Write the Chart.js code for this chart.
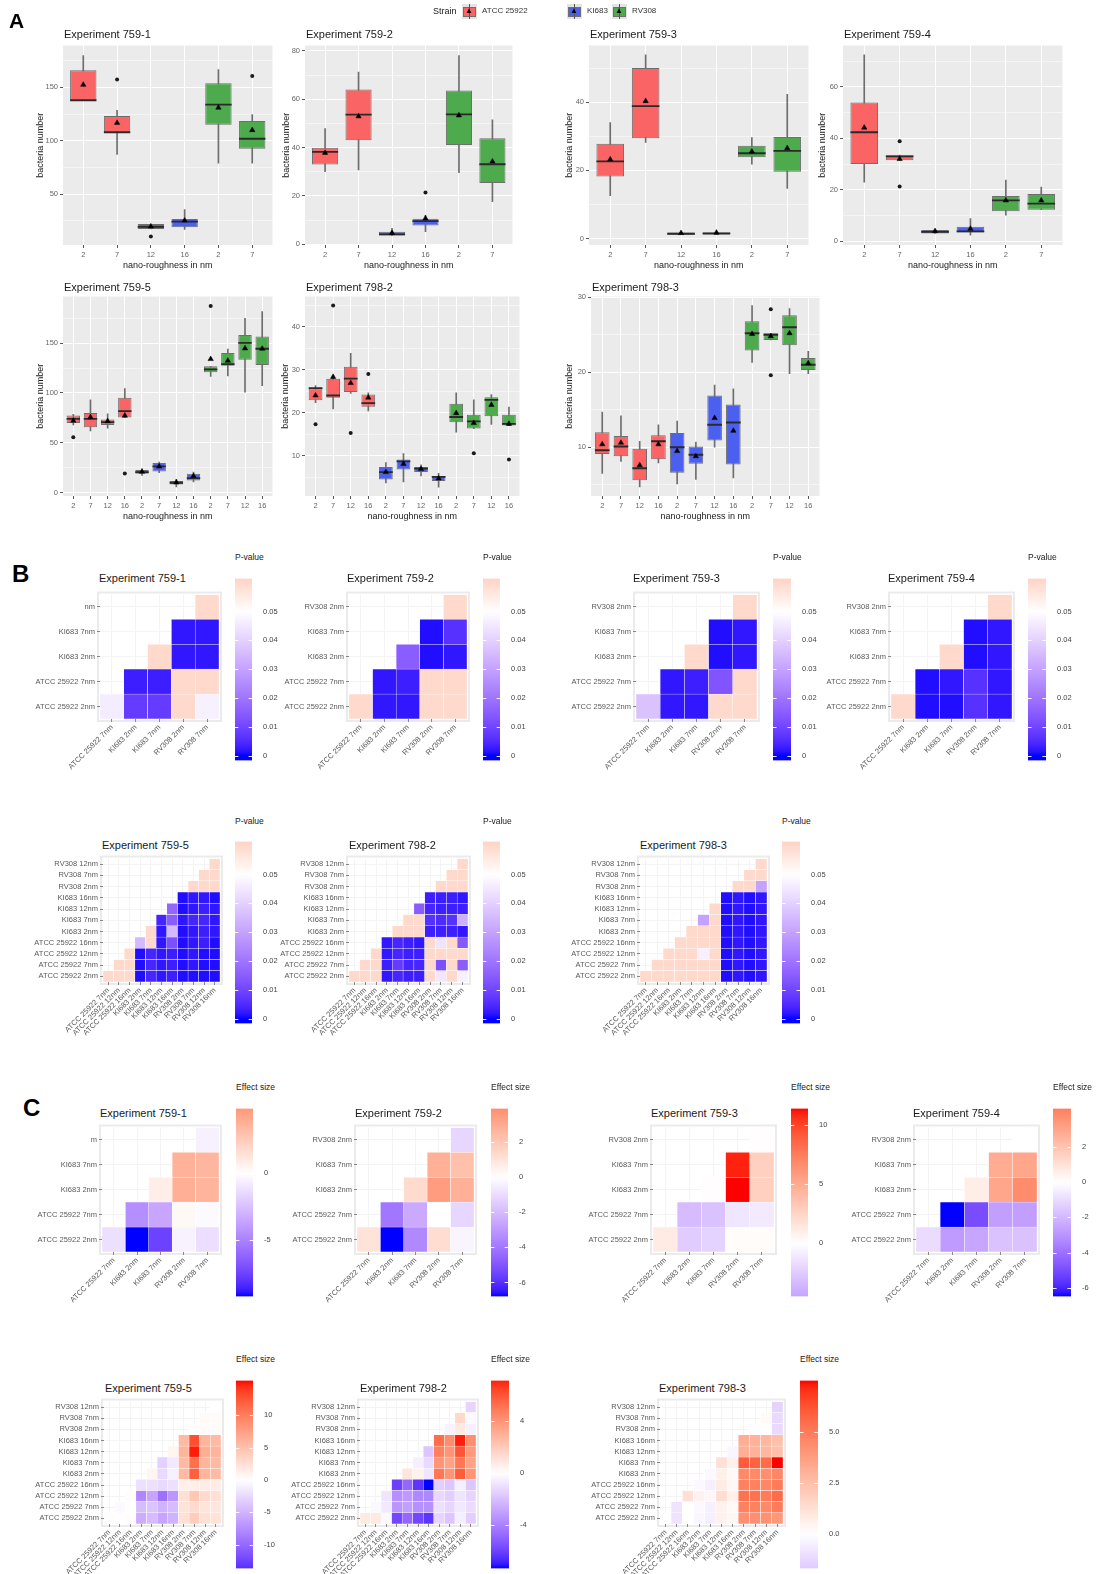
<!DOCTYPE html>
<html>
<head>
<meta charset="utf-8">
<script src="https://cdn.jsdelivr.net/npm/chart.js@4.4.1/dist/chart.umd.min.js"></script>
<style>
  body { margin: 0; background: #fff; }
  #page { position: relative; width: 1104px; height: 1574px; overflow: hidden; font-family: "Liberation Sans", Arial, Helvetica, sans-serif; }
  .abs { position: absolute; line-height: 1; transform: translateY(-50%); white-space: nowrap; color: #1a1a1a; }
  canvas { position: absolute; }
  .key { position: absolute; width: 15px; height: 15px; background: #e3e3e3; }
  .key .fill { position: absolute; left: 1px; top: 3px; width: 11px; height: 8px; border: 1px solid #6e6e6e; }
  .key .wl { position: absolute; left: 7px; top: 0; width: 1px; height: 15px; background: #555; }
  .key .tri { position: absolute; left: 3px; top: 3px; font-size: 8px; line-height: 8px; color: #000; }
</style>
</head>
<body>
<div id="page"></div>
<script>
// ---------- Panel A : box statistics ----------
const strainNames = ['ATCC 25922', 'KI683', 'RV308'];
const strainColors = ['#FA6464', '#4B60F0', '#4DAB4D'];

const cats6 = ['2', '7', '12', '16', '2', '7'];
const strains6 = [0, 0, 1, 1, 2, 2];
const cats12 = ['2', '7', '12', '16', '2', '7', '12', '16', '2', '7', '12', '16'];
const strains12 = [0, 0, 0, 0, 1, 1, 1, 1, 2, 2, 2, 2];

// Experiment 759-1
const e7591Low = [138, 87.3, 17.4, 16.8, 78.9, 78.9];
const e7591Q1 = [138, 108, 17.4, 19, 115, 92.5];
const e7591Med = [138, 108, 19.3, 24.2, 133.9, 101.9];
const e7591Q3 = [166, 123.3, 22, 26.7, 154, 118.6];
const e7591High = [179.8, 128.6, 22, 35.4, 166.8, 124.5];
const e7591Mean = [152.5, 116.8, 19.6, 25.2, 131, 110];
const e7591Out = [[1, 157.5], [2, 10.2], [5, 160.6]];
const e7591Y = [2.3, 189.3];
const e7591Ticks = [50, 100, 150];

// Experiment 759-2
const e7592Low = [30, 30.7, 3.6, 5.2, 29.6, 17.6];
const e7592Q1 = [33, 43, 3.6, 7.8, 41.1, 25.3];
const e7592Med = [38.2, 53.6, 4.1, 9.6, 53.7, 33.1];
const e7592Q3 = [39.9, 64, 5.2, 10.6, 63.6, 43.8];
const e7592High = [47.8, 71.2, 6.6, 12, 78, 51.5];
const e7592Mean = [37.8, 52.9, 4.7, 10.7, 53.3, 34.2];
const e7592Out = [[3, 21.4]];
const e7592Y = [-0.3, 82.2];
const e7592Ticks = [0, 20, 40, 60, 80];

// Experiment 759-3
const e7593Low = [12.6, 28.2, 1.1, 1.1, 21.8, 14.7];
const e7593Q1 = [18.2, 29.4, 1.1, 1.1, 23.8, 19.6];
const e7593Med = [22.6, 38.8, 1.4, 1.5, 25, 25.7];
const e7593Q3 = [27.8, 50, 1.8, 1.8, 27.2, 29.8];
const e7593High = [34, 53.9, 1.8, 1.8, 29.6, 42.3];
const e7593Mean = [23.2, 40.3, 1.6, 1.7, 25.5, 26.5];
const e7593Out = [];
const e7593Y = [-1.9, 56.6];
const e7593Ticks = [0, 20, 40];

// Experiment 759-4
const e7594Low = [23, 31.5, 3.1, 2.4, 10.2, 12.3];
const e7594Q1 = [30.1, 31.5, 3.1, 3.5, 11.7, 12.3];
const e7594Med = [42.4, 33, 3.7, 3.9, 15.9, 14.7];
const e7594Q3 = [54, 33.5, 4.4, 5.7, 17.6, 18.4];
const e7594High = [72.5, 33.5, 4.4, 8.9, 23.8, 21.1];
const e7594Mean = [44.2, 32, 4, 4.9, 15.9, 15.9];
const e7594Out = [[1, 38.9], [1, 21.3]];
const e7594Y = [-1.4, 76.1];
const e7594Ticks = [0, 20, 40, 60];

// Experiment 759-5
const e7595Low = [68, 62, 64.7, 75.3, 17.3, 20, 5.7, 10.7, 116.7, 117, 100.7, 107.3];
const e7595Q1 = [70, 65.7, 68, 75.3, 19, 21.3, 8.3, 12.3, 120.7, 127.3, 133.3, 128];
const e7595Med = [74, 74, 70.7, 81.7, 20.7, 26.3, 10, 14.7, 123.7, 129, 150.3, 144.3];
const e7595Q3 = [77.3, 80, 73.3, 95.3, 22.7, 29.7, 11.7, 19, 126.7, 140, 158, 156.7];
const e7595High = [78.7, 93, 79, 104.3, 24, 30.7, 13.3, 20.7, 126.7, 144, 174.7, 181.7];
const e7595Mean = [72.3, 75.7, 71.7, 77.3, 21, 26.3, 10.3, 16.7, 134, 132.3, 144.7, 144.3];
const e7595Out = [[0, 55.7], [3, 19.3], [8, 187.3]];
const e7595Y = [-3.3, 196.7];
const e7595Ticks = [0, 50, 100, 150];

// Experiment 798-2
const e7982Low = [22.3, 20.9, 24.5, 20.4, 3.7, 3.9, 5.3, 2.7, 15.5, 16.3, 17.3, 17];
const e7982Q1 = [22.9, 23.5, 24.8, 21.4, 4.5, 6.8, 6.2, 4.1, 17.8, 16.3, 19.2, 17];
const e7982Med = [25.7, 24, 27.9, 22.2, 6.2, 8.7, 7, 5.1, 19, 18, 23, 17.4];
const e7982Q3 = [25.7, 27.9, 30.7, 24.2, 7.4, 9.1, 7.4, 5.3, 22.1, 19.5, 23.6, 19.5];
const e7982High = [26.3, 28.5, 33.8, 24.6, 8.4, 10.5, 7.9, 5.9, 24.6, 23, 24.2, 21.3];
const e7982Mean = [24, 28.3, 26.9, 23.5, 6.2, 8.1, 6.9, 4.7, 19.9, 17.6, 21.8, 17.4];
const e7982Out = [[0, 17.3], [1, 44.9], [2, 15.3], [3, 29], [9, 10.6], [11, 9.1]];
const e7982Y = [0.64, 47.0];
const e7982Ticks = [10, 20, 30, 40];

// Experiment 798-3
const e7983Low = [6.5, 8.1, 4.7, 7.9, 5.1, 5.7, 10, 5.9, 21.3, 24.3, 19.8, 19.8];
const e7983Q1 = [9.1, 8.8, 5.6, 8.4, 6.6, 7.8, 10.9, 7.7, 22.9, 24.3, 23.6, 20.3];
const e7983Med = [9.6, 10.1, 7.2, 10.8, 10, 9, 13, 13.3, 25.2, 25, 26, 21];
const e7983Q3 = [12, 11.5, 9.8, 11.6, 11.9, 10.1, 16.9, 15.7, 26.8, 25.2, 27.6, 21.9];
const e7983High = [14.7, 14.2, 10.8, 13, 13.5, 10.7, 18.3, 17.8, 28.9, 25.2, 28.5, 22.8];
const e7983Mean = [10.4, 10.6, 7.6, 10.4, 9.5, 8.8, 13.9, 12.2, 25.1, 24.8, 25.2, 21.2];
const e7983Out = [[9, 28.4], [9, 19.6]];
const e7983Y = [3.5, 30.1];
const e7983Ticks = [10, 20, 30];

// ---------- Panels B and C : pairwise heatmaps ----------
const rows5B = ['ATCC 25922 2nm', 'ATCC 25922 7nm', 'KI683 2nm', 'KI683 7nm', 'nm'];
const rows5C = ['ATCC 25922 2nm', 'ATCC 25922 7nm', 'KI683 2nm', 'KI683 7nm', 'm'];
const rows5 = ['ATCC 25922 2nm', 'ATCC 25922 7nm', 'KI683 2nm', 'KI683 7nm', 'RV308 2nm'];
const cols5 = ['ATCC 25922 7nm', 'KI683 2nm', 'KI683 7nm', 'RV308 2nm', 'RV308 7nm'];
const rows11 = ['ATCC 25922 2nm', 'ATCC 25922 7nm', 'ATCC 25922 12nm', 'ATCC 25922 16nm', 'KI683 2nm', 'KI683 7nm',
  'KI683 12nm', 'KI683 16nm', 'RV308 2nm', 'RV308 7nm', 'RV308 12nm'];
const cols11 = ['ATCC 25922 7nm', 'ATCC 25922 12nm', 'ATCC 25922 16nm', 'KI683 2nm', 'KI683 7nm', 'KI683 12nm',
  'KI683 16nm', 'RV308 2nm', 'RV308 7nm', 'RV308 12nm', 'RV308 16nm'];

// p-values, row i (bottom -> top) lists columns i..n-1
const p7591 = [[0.046, 0.008, 0.008, 0.06, 0.047], [0.003, 0.003, 0.06, 0.06], [0.06, 0.002, 0.002], [0.002, 0.002], [0.06]];
const p7592 = [[0.06, 0.002, 0.002, 0.06, 0.06], [0.002, 0.003, 0.06, 0.06], [0.015, 0.001, 0.002], [0.001, 0.006], [0.06]];
const p7593 = [[0.037, 0.002, 0.002, 0.06, 0.06], [0.002, 0.003, 0.013, 0.06], [0.06, 0.001, 0.002], [0.001, 0.002], [0.06]];
const p7594 = [[0.06, 0.001, 0.001, 0.006, 0.002], [0.001, 0.002, 0.006, 0.002], [0.06, 0.001, 0.002], [0.001, 0.002], [0.06]];
const p7595 = [
  [0.06, 0.06, 0.06, 0.001, 0.004, 0.002, 0.003, 0.001, 0.001, 0.001, 0.001],
  [0.06, 0.06, 0.001, 0.004, 0.002, 0.003, 0.001, 0.002, 0.001, 0.001],
  [0.06, 0.001, 0.004, 0.002, 0.003, 0.001, 0.002, 0.001, 0.001],
  [0.035, 0.06, 0.002, 0.012, 0.001, 0.002, 0.003, 0.001],
  [0.06, 0.002, 0.035, 0.001, 0.002, 0.003, 0.002],
  [0.004, 0.015, 0.002, 0.004, 0.004, 0.002],
  [0.017, 0.001, 0.002, 0.003, 0.002],
  [0.001, 0.002, 0.002, 0.001],
  [0.06, 0.06, 0.06], [0.06, 0.06], [0.06]];
const p7982 = [
  [0.06, 0.06, 0.06, 0.002, 0.004, 0.003, 0.003, 0.06, 0.045, 0.06, 0.047],
  [0.06, 0.06, 0.003, 0.008, 0.004, 0.004, 0.06, 0.012, 0.06, 0.015],
  [0.06, 0.002, 0.004, 0.003, 0.003, 0.06, 0.06, 0.06, 0.06],
  [0.002, 0.004, 0.003, 0.002, 0.06, 0.044, 0.06, 0.014],
  [0.06, 0.06, 0.06, 0.003, 0.003, 0.003, 0.002],
  [0.06, 0.06, 0.006, 0.005, 0.006, 0.033],
  [0.015, 0.004, 0.003, 0.003, 0.003],
  [0.003, 0.003, 0.003, 0.002],
  [0.06, 0.06, 0.06], [0.06, 0.06], [0.06]];
const p7983 = [
  [0.06, 0.06, 0.06, 0.06, 0.06, 0.06, 0.06, 0.001, 0.002, 0.001, 0.002],
  [0.06, 0.06, 0.06, 0.06, 0.06, 0.06, 0.001, 0.002, 0.001, 0.002],
  [0.06, 0.06, 0.06, 0.047, 0.06, 0.001, 0.002, 0.001, 0.002],
  [0.06, 0.06, 0.06, 0.06, 0.001, 0.002, 0.001, 0.002],
  [0.06, 0.06, 0.06, 0.001, 0.002, 0.001, 0.002],
  [0.03, 0.06, 0.001, 0.002, 0.001, 0.002],
  [0.06, 0.001, 0.002, 0.001, 0.002],
  [0.001, 0.002, 0.001, 0.002],
  [0.06, 0.06, 0.03], [0.06, 0.06], [0.06]];

// effect sizes, same layout
const es7591 = [[-1.2, -9.2, -7.5, -0.5, -1.3], [-4.5, -3.5, 0.3, -0.2], [0.8, 3.8, 3.6], [3.7, 3.5], [-0.6]];
const es7592 = [[1.0, -6.8, -3.5, 1.2, -0.3], [-4.0, -2.5, 0.0, -1.2], [1.3, 3.5, 2.8], [2.8, 2.2], [-1.2]];
const es7593 = [[1.2, -2.5, -2.2, 0.2, 0.2], [-3.3, -3.0, -1.2, -1.0], [0.1, 11.4, 2.8], [11.0, 2.8], [0.1]];
const es7594 = [[-1.0, -2.8, -2.5, -1.7, -1.7], [-6.5, -5.0, -2.7, -2.7], [0.6, 3.0, 3.8], [2.8, 3.0], [0.0]];
const es7595 = [
  [0.2, 0.0, 0.2, -5.5, -4.5, -6.0, -5.0, 2.5, 4.0, 2.5, 2.3],
  [-0.3, 0.0, -4.5, -3.8, -5.0, -4.5, 2.3, 3.0, 2.2, 2.0],
  [0.2, -8.0, -6.0, -9.5, -7.0, 2.5, 4.5, 3.0, 2.5],
  [-2.0, -2.0, -2.5, -2.0, 1.3, 1.3, 1.5, 1.5],
  [0.8, -2.5, -1.0, 5.5, 12.0, 6.0, 5.5],
  [-3.0, -1.5, 5.5, 11.0, 6.0, 5.5],
  [0.8, 6.0, 15.0, 6.5, 6.0],
  [5.5, 13.0, 6.0, 5.5],
  [0.1, 0.3, 0.3], [0.4, 0.3], [0.0]];
const es7982 = [
  [0.8, 0.8, -0.2, -5.8, -4.8, -5.8, -6.3, -1.3, -1.8, -0.5, -1.5],
  [-0.2, -0.7, -3.3, -3.0, -3.5, -3.5, -1.0, -1.3, -0.7, -1.1],
  [-0.8, -3.5, -3.2, -3.8, -3.8, -1.2, -1.5, -0.8, -1.3],
  [-6.0, -4.8, -6.3, -7.3, -1.5, -1.8, -0.5, -1.8],
  [1.0, 0.5, -0.8, 5.0, 4.0, 5.8, 4.0],
  [-0.5, -1.2, 4.0, 3.5, 5.0, 3.5],
  [-1.8, 4.7, 4.0, 6.0, 3.8],
  [5.3, 4.3, 7.1, 4.2],
  [-0.4, 0.8, -0.5], [1.5, -0.2], [-1.3]];
const es7983 = [
  [0.0, -0.9, 0.0, -0.3, -0.5, 0.5, 0.3, 4.3, 4.3, 4.2, 4.0],
  [-0.9, 0.0, -0.2, -0.5, 0.5, 0.2, 4.8, 4.8, 4.5, 5.0],
  [1.2, 0.5, 0.3, 1.3, 0.6, 5.3, 5.3, 5.0, 5.5],
  [-0.2, -0.5, 0.8, 0.3, 4.8, 4.8, 4.6, 5.0],
  [-0.2, 0.6, 0.2, 4.5, 4.5, 4.3, 4.6],
  [1.2, 0.5, 6.0, 5.8, 5.5, 7.5],
  [-0.3, 3.2, 3.0, 2.8, 2.5],
  [3.2, 3.0, 2.8, 2.5],
  [-0.1, 0.0, -1.2], [0.2, -1.2], [-1.4]];

// colour bar limits and ticks
const pRange = [-0.0017, 0.0615];
const pTicks = [0, 0.01, 0.02, 0.03, 0.04, 0.05];
const pTickLabels = ['0', '0.01', '0.02', '0.03', '0.04', '0.05'];
const es7591Range = [-9.2, 4.85], es7591Ticks = [-5, 0], es7591Labels = ['-5', '0'];
const es7592Range = [-6.8, 3.9], es7592Ticks = [-6, -4, -2, 0, 2], es7592Labels = ['-6', '-4', '-2', '0', '2'];
const es7593Range = [-4.5, 11.4], es7593Ticks = [0, 5, 10], es7593Labels = ['0', '5', '10'];
const es7594Range = [-6.5, 4.2], es7594Ticks = [-6, -4, -2, 0, 2], es7594Labels = ['-6', '-4', '-2', '0', '2'];
const es7595Range = [-13.7, 15.4], es7595Ticks = [-10, -5, 0, 5, 10], es7595Labels = ['-10', '-5', '0', '5', '10'];
const es7982Range = [-7.3, 7.1], es7982Ticks = [-4, 0, 4], es7982Labels = ['-4', '0', '4'];
const es7983Range = [-1.7, 7.5], es7983Ticks = [0, 2.5, 5], es7983Labels = ['0.0', '2.5', '5.0'];

// ---------- helpers ----------
Chart.defaults.font.family = '"Liberation Sans", Arial, Helvetica, sans-serif';
Chart.defaults.animation = false;
Chart.defaults.responsive = false;
Chart.defaults.events = [];
Chart.defaults.plugins.legend.display = false;
Chart.defaults.plugins.tooltip.enabled = false;

const page = document.getElementById('page');

function addCanvas(left, top, w, h) {
  const c = document.createElement('canvas');
  c.width = w; c.height = h;
  c.style.left = left + 'px'; c.style.top = top + 'px';
  c.style.width = w + 'px'; c.style.height = h + 'px';
  page.appendChild(c);
  return c;
}

function addText(str, x, y, size, opts = {}) {
  const d = document.createElement('div');
  d.className = 'abs';
  d.textContent = str;
  d.style.left = x + 'px';
  d.style.top = y + 'px';
  d.style.fontSize = size + 'px';
  if (opts.bold) d.style.fontWeight = 'bold';
  if (opts.color) d.style.color = opts.color;
  page.appendChild(d);
  return d;
}

// CIELAB interpolation like ggplot's gradient2
function toLin(c) { c /= 255; return c <= 0.04045 ? c / 12.92 : Math.pow((c + 0.055) / 1.055, 2.4); }
function toSrgb(c) {
  const v = c <= 0.0031308 ? 12.92 * c : 1.055 * Math.pow(c, 1 / 2.4) - 0.055;
  return Math.round(Math.max(0, Math.min(1, v)) * 255);
}
function rgbToLab(rgb) {
  const [r, g, b] = rgb.map(toLin);
  const X = (0.4124 * r + 0.3576 * g + 0.1805 * b) / 0.95047;
  const Y = 0.2126 * r + 0.7152 * g + 0.0722 * b;
  const Z = (0.0193 * r + 0.1192 * g + 0.9505 * b) / 1.08883;
  const f = t => (t > 0.008856 ? Math.cbrt(t) : 7.787 * t + 16 / 116);
  return [116 * f(Y) - 16, 500 * (f(X) - f(Y)), 200 * (f(Y) - f(Z))];
}
function labToRgb([L, a, b]) {
  const fy = (L + 16) / 116, fx = fy + a / 500, fz = fy - b / 200;
  const inv = t => (t * t * t > 0.008856 ? t * t * t : (t - 16 / 116) / 7.787);
  const X = inv(fx) * 0.95047, Y = inv(fy), Z = inv(fz) * 1.08883;
  return [
    toSrgb(3.2406 * X - 1.5372 * Y - 0.4986 * Z),
    toSrgb(-0.9689 * X + 1.8758 * Y + 0.0415 * Z),
    toSrgb(0.0557 * X - 0.2040 * Y + 1.0570 * Z)
  ];
}
const LAB_WHITE = rgbToLab([255, 255, 255]);
const LAB_BLUE = rgbToLab([0, 0, 255]);
const LAB_RED = rgbToLab([255, 0, 0]);

function diverging(mid, span) {
  return v => {
    let t = (v - mid) / span;
    t = Math.max(-1, Math.min(1, t));
    const end = t < 0 ? LAB_BLUE : LAB_RED;
    const s = Math.abs(t);
    const c = labToRgb(LAB_WHITE.map((w, k) => w + (end[k] - w) * s));
    return `rgb(${c[0]},${c[1]},${c[2]})`;
  };
}

const panelBg = {
  id: 'panelBg',
  beforeDraw(chart, args, opts) {
    if (!opts.color) return;
    const a = chart.chartArea, ctx = chart.ctx;
    ctx.save();
    ctx.fillStyle = opts.color;
    ctx.fillRect(a.left, a.top, a.right - a.left, a.bottom - a.top);
    ctx.restore();
  }
};
const panelFrame = {
  id: 'panelFrame',
  beforeDraw(chart, args, opts) {
    if (!opts.color) return;
    const a = chart.chartArea, ctx = chart.ctx, p = opts.pad;
    ctx.save();
    ctx.strokeStyle = opts.color;
    ctx.lineWidth = opts.width;
    ctx.strokeRect(a.left - p, a.top - p, a.right - a.left + 2 * p, a.bottom - a.top + 2 * p);
    ctx.restore();
  }
};
// little white tick marks on the colour bar, like ggplot's guide_colourbar
const barTicks = {
  id: 'barTicks',
  afterDatasetsDraw(chart, args, opts) {
    if (!opts.on) return;
    const a = chart.chartArea, ctx = chart.ctx, ys = chart.scales.y;
    const w = (a.right - a.left) / 5;
    ctx.save();
    ctx.strokeStyle = 'rgba(255,255,255,0.9)';
    ctx.lineWidth = 1;
    ys.ticks.forEach(t => {
      const y = Math.round(ys.getPixelForValue(t.value)) + 0.5;
      ctx.beginPath();
      ctx.moveTo(a.left, y); ctx.lineTo(a.left + w, y);
      ctx.moveTo(a.right - w, y); ctx.lineTo(a.right, y);
      ctx.stroke();
    });
    ctx.restore();
  }
};
Chart.register(panelBg, panelFrame, barTicks);

// ---------- Panel A charts ----------
const boxExperiments = [
  { title: 'Experiment 759-1', cats: cats6, strains: strains6, low: e7591Low, q1: e7591Q1, med: e7591Med, q3: e7591Q3, high: e7591High, mean: e7591Mean, out: e7591Out, yr: e7591Y, yt: e7591Ticks },
  { title: 'Experiment 759-2', cats: cats6, strains: strains6, low: e7592Low, q1: e7592Q1, med: e7592Med, q3: e7592Q3, high: e7592High, mean: e7592Mean, out: e7592Out, yr: e7592Y, yt: e7592Ticks },
  { title: 'Experiment 759-3', cats: cats6, strains: strains6, low: e7593Low, q1: e7593Q1, med: e7593Med, q3: e7593Q3, high: e7593High, mean: e7593Mean, out: e7593Out, yr: e7593Y, yt: e7593Ticks },
  { title: 'Experiment 759-4', cats: cats6, strains: strains6, low: e7594Low, q1: e7594Q1, med: e7594Med, q3: e7594Q3, high: e7594High, mean: e7594Mean, out: e7594Out, yr: e7594Y, yt: e7594Ticks },
  { title: 'Experiment 759-5', cats: cats12, strains: strains12, low: e7595Low, q1: e7595Q1, med: e7595Med, q3: e7595Q3, high: e7595High, mean: e7595Mean, out: e7595Out, yr: e7595Y, yt: e7595Ticks },
  { title: 'Experiment 798-2', cats: cats12, strains: strains12, low: e7982Low, q1: e7982Q1, med: e7982Med, q3: e7982Q3, high: e7982High, mean: e7982Mean, out: e7982Out, yr: e7982Y, yt: e7982Ticks },
  { title: 'Experiment 798-3', cats: cats12, strains: strains12, low: e7983Low, q1: e7983Q1, med: e7983Med, q3: e7983Q3, high: e7983High, mean: e7983Mean, out: e7983Out, yr: e7983Y, yt: e7983Ticks }
];
const boxLayout = [
  { x0: 63, x1: 273, y0: 45, y1: 245, L: 28, ty: 34 },
  { x0: 305, x1: 513, y0: 45, y1: 245, L: 24, ty: 34 },
  { x0: 589, x1: 809, y0: 45, y1: 245, L: 25, ty: 34 },
  { x0: 843, x1: 1063, y0: 45, y1: 245, L: 26, ty: 34 },
  { x0: 63, x1: 273, y0: 296, y1: 496, L: 28, ty: 287 },
  { x0: 305, x1: 520, y0: 296, y1: 496, L: 25, ty: 287 },
  { x0: 591, x1: 820, y0: 296, y1: 496, L: 27, ty: 287 }
];

function drawBoxplot(exp, lay) {
  const T = 6, B = 26, R = 4, n = exp.cats.length;
  const w = lay.x1 - lay.x0, h = lay.y1 - lay.y0;
  const cv = addCanvas(lay.x0 - lay.L, lay.y0 - T, lay.L + w + R, T + h + B);
  const barPct = 0.78;
  const halfBox = ctx => {
    const xs = ctx.chart.scales.x;
    return xs ? (xs.getPixelForValue(1) - xs.getPixelForValue(0)) * barPct / 2 : 5;
  };
  const step = exp.yt[1] - exp.yt[0];
  const yTicks = [];
  for (let v = exp.yt[0] - step / 2; v <= exp.yr[1]; v += step / 2) {
    if (v >= exp.yr[0]) yTicks.push({ value: v, isMinor: !exp.yt.includes(v) });
  }
  new Chart(cv, {
    type: 'bar',
    data: {
      datasets: [
        { type: 'line', data: exp.mean.map((v, i) => ({ x: i, y: v })), showLine: false, pointStyle: 'triangle',
          pointRadius: 3.1, pointBackgroundColor: '#000', pointBorderColor: '#000', pointBorderWidth: 0.5, order: 1 },
        { type: 'line', data: exp.out.map(o => ({ x: o[0], y: o[1] })), showLine: false, pointStyle: 'circle',
          pointRadius: 2, pointBackgroundColor: '#1a1a1a', pointBorderWidth: 0, order: 2 },
        { type: 'line', data: exp.med.map((v, i) => ({ x: i, y: v })), showLine: false, pointStyle: 'line',
          pointRadius: halfBox, pointBorderColor: '#2a2a2a', pointBorderWidth: 1.8, order: 3 },
        { data: exp.q1.map((v, i) => ({ x: i, y: [v, exp.q3[i]] })), backgroundColor: exp.strains.map(s => strainColors[s]),
          borderColor: '#6e6e6e', borderWidth: 1, borderSkipped: false, barPercentage: barPct, categoryPercentage: 1,
          grouped: false, order: 4 },
        { data: exp.low.map((v, i) => ({ x: i, y: [v, exp.high[i]] })), backgroundColor: '#6e6e6e',
          barThickness: 1, grouped: false, order: 5 }
      ]
    },
    options: {
      layout: { padding: { top: T, right: R, left: 0, bottom: 0 } },
      plugins: { panelBg: { color: '#EBEBEB' } },
      scales: {
        x: {
          type: 'linear', offset: false, min: -0.6, max: n - 0.4,
          afterBuildTicks: s => { s.ticks = exp.cats.map((c, i) => ({ value: i })); },
          afterFit: s => { s.height = B; },
          grid: { offset: false, color: '#FFFFFF', lineWidth: 1, tickColor: '#555', tickLength: 3 },
          border: { display: false },
          ticks: { callback: (v, i) => exp.cats[i], autoSkip: false, maxRotation: 0, padding: 2, font: { size: 7.5 }, color: '#666' },
          title: { display: true, text: 'nano-roughness in nm', padding: 0, font: { size: 9 }, color: '#1a1a1a' }
        },
        y: {
          type: 'linear', min: exp.yr[0], max: exp.yr[1],
          afterBuildTicks: s => { s.ticks = yTicks.map(t => ({ value: t.value, isMinor: t.isMinor })); },
          afterFit: s => { s.width = lay.L; },
          grid: {
            color: '#FFFFFF',
            lineWidth: c => (c.tick && c.tick.isMinor ? 0.5 : 1),
            tickColor: c => (c.tick && c.tick.isMinor ? 'rgba(0,0,0,0)' : '#555'),
            tickLength: 3
          },
          border: { display: false },
          ticks: { callback: (v, i) => (yTicks[i].isMinor ? '' : String(v)), autoSkip: false, padding: 2, font: { size: 7.5 }, color: '#666' },
          title: { display: true, text: 'bacteria number', padding: 0, font: { size: 9 }, color: '#1a1a1a' }
        }
      }
    }
  });
  addText(exp.title, lay.x0 + 1, lay.ty, 11);
}

boxExperiments.forEach((e, i) => drawBoxplot(e, boxLayout[i]));

// legend for panel A
addText('Strain', 433, 11, 9);
[[462, 482], [567, 587], [612, 632]].forEach((pos, k) => {
  const key = document.createElement('div');
  key.className = 'key';
  key.style.left = pos[0] + 'px';
  key.style.top = '4px';
  key.innerHTML = `<div class="wl"></div><div class="fill" style="background:${strainColors[k]}"></div><div class="wl"></div><div class="tri">▲</div>`;
  page.appendChild(key);
  addText(strainNames[k], pos[1], 11, 8, { color: '#333' });
});

// ---------- heatmaps and colour bars ----------
function drawHeatmap(rows, cols, vals, colorFn, cells) {
  const L = 100, T = 6, R = 6, B = 75;
  const x0 = Math.round(cells[0]), x1 = Math.round(cells[1]);
  const y0 = Math.round(cells[2]), y1 = Math.round(cells[3]);
  const cv = addCanvas(x0 - L, y0 - T, L + (x1 - x0) + R, T + (y1 - y0) + B);
  const datasets = rows.map((r, i) => ({
    data: cols.map((c, j) => (j >= i ? [i - 0.5, i + 0.5] : null)),
    backgroundColor: cols.map((c, j) => (j >= i ? colorFn(vals[i][j - i]) : 'rgba(0,0,0,0)')),
    borderColor: '#FFFFFF', borderWidth: 0.5, borderSkipped: false,
    barPercentage: 1, categoryPercentage: 1, grouped: false
  }));
  new Chart(cv, {
    type: 'bar',
    data: { labels: cols, datasets },
    options: {
      layout: { padding: { top: T, right: R, left: 0, bottom: 0 } },
      plugins: { panelFrame: { color: '#EBEBEB', pad: 2, width: 2 } },
      scales: {
        x: {
          type: 'category', offset: true,
          afterFit: s => { s.height = B; },
          grid: { offset: false, color: '#F4F4F4', tickColor: '#888', tickLength: 3 },
          border: { display: false },
          ticks: { autoSkip: false, minRotation: 45, maxRotation: 45, padding: 1, font: { size: 7.5 }, color: '#5a5a5a' }
        },
        y: {
          type: 'linear', min: -0.5, max: rows.length - 0.5,
          afterBuildTicks: s => { s.ticks = rows.map((r, i) => ({ value: i })); },
          afterFit: s => { s.width = L; },
          grid: { color: '#F4F4F4', tickColor: '#888', tickLength: 3 },
          border: { display: false },
          ticks: { callback: (v, i) => rows[i], autoSkip: false, padding: 2, font: { size: 7.5 }, color: '#5a5a5a' }
        }
      }
    }
  });
}

function drawColorbar(range, tickVals, tickLabels, colorFn, bar) {
  const Ry = 30, P = 6;
  const x0 = Math.round(bar[0]), x1 = Math.round(bar[1]);
  const y0 = Math.round(bar[2]), y1 = Math.round(bar[3]);
  const cv = addCanvas(x0, y0 - P, (x1 - x0) + Ry, (y1 - y0) + 2 * P);
  const gradient = ctx => {
    const ch = ctx.chart;
    if (!ch.chartArea) return colorFn(range[0]);
    const ys = ch.scales.y;
    const g = ch.ctx.createLinearGradient(0, ys.getPixelForValue(range[0]), 0, ys.getPixelForValue(range[1]));
    for (let k = 0; k <= 40; k++) g.addColorStop(k / 40, colorFn(range[0] + (range[1] - range[0]) * k / 40));
    return g;
  };
  new Chart(cv, {
    type: 'bar',
    data: { labels: [''], datasets: [{ data: [range], backgroundColor: gradient, borderWidth: 0, barPercentage: 1, categoryPercentage: 1 }] },
    options: {
      layout: { padding: { top: P, bottom: P, left: 0, right: 0 } },
      plugins: { barTicks: { on: true } },
      scales: {
        x: { display: false },
        y: {
          position: 'right', min: range[0], max: range[1],
          afterBuildTicks: s => { s.ticks = tickVals.map(v => ({ value: v })); },
          afterFit: s => { s.width = Ry; },
          grid: { display: false }, border: { display: false },
          ticks: { callback: (v, i) => tickLabels[i], padding: 3, font: { size: 7.5 }, color: '#444' }
        }
      }
    }
  });
}

const pColor = diverging(0.05, 0.05);
const esColor = r => diverging(0, Math.max(Math.abs(r[0]), Math.abs(r[1])));

const heatPanels = [
  // panel B
  { title: 'Experiment 759-1', rows: rows5B, cols: cols5, vals: p7591, range: pRange, ticks: pTicks, labels: pTickLabels, color: pColor, legend: 'P-value' },
  { title: 'Experiment 759-2', rows: rows5, cols: cols5, vals: p7592, range: pRange, ticks: pTicks, labels: pTickLabels, color: pColor, legend: 'P-value' },
  { title: 'Experiment 759-3', rows: rows5, cols: cols5, vals: p7593, range: pRange, ticks: pTicks, labels: pTickLabels, color: pColor, legend: 'P-value' },
  { title: 'Experiment 759-4', rows: rows5, cols: cols5, vals: p7594, range: pRange, ticks: pTicks, labels: pTickLabels, color: pColor, legend: 'P-value' },
  { title: 'Experiment 759-5', rows: rows11, cols: cols11, vals: p7595, range: pRange, ticks: pTicks, labels: pTickLabels, color: pColor, legend: 'P-value' },
  { title: 'Experiment 798-2', rows: rows11, cols: cols11, vals: p7982, range: pRange, ticks: pTicks, labels: pTickLabels, color: pColor, legend: 'P-value' },
  { title: 'Experiment 798-3', rows: rows11, cols: cols11, vals: p7983, range: pRange, ticks: pTicks, labels: pTickLabels, color: pColor, legend: 'P-value' },
  // panel C
  { title: 'Experiment 759-1', rows: rows5C, cols: cols5, vals: es7591, range: es7591Range, ticks: es7591Ticks, labels: es7591Labels, color: esColor(es7591Range), legend: 'Effect size' },
  { title: 'Experiment 759-2', rows: rows5, cols: cols5, vals: es7592, range: es7592Range, ticks: es7592Ticks, labels: es7592Labels, color: esColor(es7592Range), legend: 'Effect size' },
  { title: 'Experiment 759-3', rows: rows5, cols: cols5, vals: es7593, range: es7593Range, ticks: es7593Ticks, labels: es7593Labels, color: esColor(es7593Range), legend: 'Effect size' },
  { title: 'Experiment 759-4', rows: rows5, cols: cols5, vals: es7594, range: es7594Range, ticks: es7594Ticks, labels: es7594Labels, color: esColor(es7594Range), legend: 'Effect size' },
  { title: 'Experiment 759-5', rows: rows11, cols: cols11, vals: es7595, range: es7595Range, ticks: es7595Ticks, labels: es7595Labels, color: esColor(es7595Range), legend: 'Effect size' },
  { title: 'Experiment 798-2', rows: rows11, cols: cols11, vals: es7982, range: es7982Range, ticks: es7982Ticks, labels: es7982Labels, color: esColor(es7982Range), legend: 'Effect size' },
  { title: 'Experiment 798-3', rows: rows11, cols: cols11, vals: es7983, range: es7983Range, ticks: es7983Ticks, labels: es7983Labels, color: esColor(es7983Range), legend: 'Effect size' }
];

// cells: [left, right, top, bottom]; bar: same for the colour bar; t: title pos; l: legend title pos
const heatLayout = [
  { cells: [100, 218.7, 593.7, 719.3], bar: [235, 252, 577, 762], t: [99, 578], l: [235, 557] },
  { cells: [348.5, 467, 593.7, 719.3], bar: [483, 500, 577, 762], t: [347, 578], l: [483, 557] },
  { cells: [635.7, 757.3, 593.7, 719.3], bar: [773, 791, 577, 762], t: [633, 578], l: [773, 557] },
  { cells: [890.7, 1012.3, 593.7, 719.3], bar: [1028, 1046, 577, 762], t: [888, 578], l: [1028, 557] },
  { cells: [102.7, 220, 858, 982], bar: [235, 252, 840, 1025], t: [102, 845], l: [235, 821] },
  { cells: [348.7, 468.3, 858, 982], bar: [483, 500, 840, 1025], t: [349, 845], l: [483, 821] },
  { cells: [640, 767.3, 858, 982], bar: [782, 800, 840, 1025], t: [640, 845], l: [782, 821] },
  { cells: [101.7, 219, 1126.7, 1251.7], bar: [236, 253, 1107, 1298], t: [100, 1113], l: [236, 1087] },
  { cells: [356.7, 474, 1126.7, 1251.7], bar: [491, 508, 1107, 1298], t: [355, 1113], l: [491, 1087] },
  { cells: [653.3, 773.7, 1126.7, 1251.7], bar: [791, 808, 1107, 1298], t: [651, 1113], l: [791, 1087] },
  { cells: [916, 1036.7, 1126.7, 1251.7], bar: [1053, 1071, 1107, 1298], t: [913, 1113], l: [1053, 1087] },
  { cells: [104.3, 220.7, 1401.3, 1523.7], bar: [236, 253, 1379, 1570], t: [105, 1388], l: [236, 1359] },
  { cells: [360, 476, 1401.3, 1523.7], bar: [491, 509, 1379, 1570], t: [360, 1388], l: [491, 1359] },
  { cells: [660, 783.3, 1401.3, 1523.7], bar: [800, 818, 1379, 1570], t: [659, 1388], l: [800, 1359] }
];

heatPanels.forEach((hp, i) => {
  const lay = heatLayout[i];
  drawHeatmap(hp.rows, hp.cols, hp.vals, hp.color, lay.cells);
  drawColorbar(hp.range, hp.ticks, hp.labels, hp.color, lay.bar);
  addText(hp.title, lay.t[0], lay.t[1], 11);
  addText(hp.legend, lay.l[0], lay.l[1], 8.5);
});

// panel letters
addText('A', 9, 20, 21, { bold: true, color: '#000' });
addText('B', 12, 574, 24, { bold: true, color: '#000' });
addText('C', 23, 1108, 24, { bold: true, color: '#000' });
</script>
</body>
</html>
